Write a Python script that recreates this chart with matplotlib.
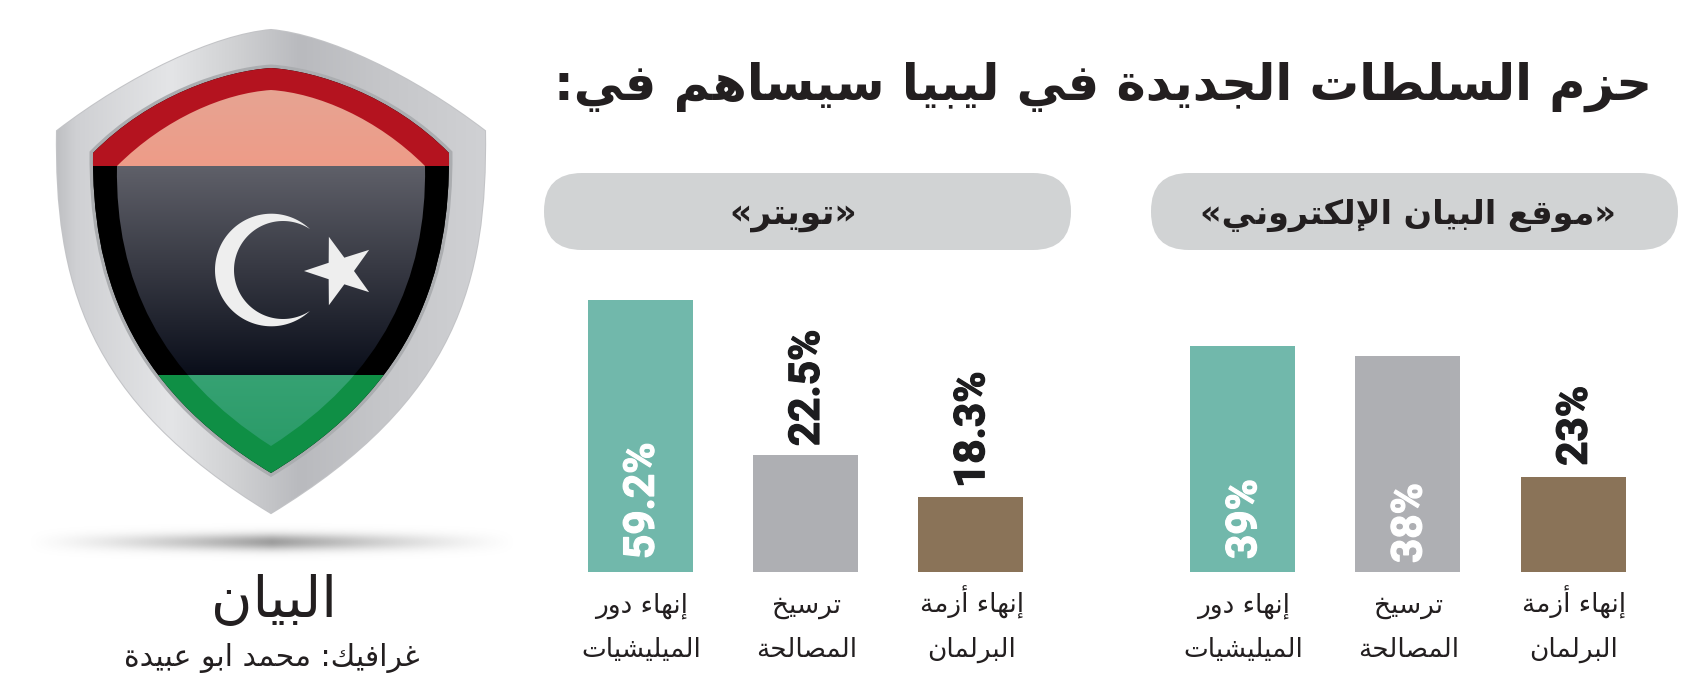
import numpy as np
import matplotlib
matplotlib.use("Agg")
import matplotlib.pyplot as plt
from matplotlib.path import Path
from matplotlib.patches import PathPatch, FancyBboxPatch, Rectangle, Polygon
from matplotlib.colors import to_rgb
import matplotlib.patheffects as pe

# ---------- data ----------
title_text = "حزم السلطات الجديدة في ليبيا سيساهم في:"
site_title = "«موقع البيان الإلكتروني»"
twitter_title = "«تويتر»"
category_labels = ["إنهاء دور\nالميليشيات", "ترسيخ\nالمصالحة", "إنهاء أزمة\nالبرلمان"]
# printed labels
site_labels = ["39%", "38%", "23%"]
twitter_labels = ["59.2%", "22.5%", "18.3%"]
# bar lengths as drawn in the picture (the source bars are not proportional to their labels)
site_bars = [49.1, 47.0, 20.7]
twitter_bars = [59.2, 25.4, 16.3]
bar_colors = ["#71b8ab", "#aeafb3", "#8a7358"]
site_inside = [True, True, False]
twitter_inside = [True, False, False]
logo_text = "البيان"
credit_text = "غرافيك: محمد ابو عبيدة"

W, H = 1686, 685
plt.rcParams["font.family"] = ["DejaVu Sans"]

# ---------- Arabic shaping (matplotlib draws glyphs left to right, unjoined) ----------
FORMS = {}
def _f(chars, start, n):
    for i, c in enumerate(chars):
        b = start + i * n
        FORMS[c] = tuple(b + k for k in range(n))
_f("ء", 0xFE80, 1)
for c, b in zip("آأؤإ", [0xFE81, 0xFE83, 0xFE85, 0xFE87]):
    FORMS[c] = (b, b + 1)
FORMS["ئ"] = (0xFE89, 0xFE8A, 0xFE8B, 0xFE8C)
FORMS["ا"] = (0xFE8D, 0xFE8E)
FORMS["ب"] = (0xFE8F, 0xFE90, 0xFE91, 0xFE92)
FORMS["ة"] = (0xFE93, 0xFE94)
_f("تثجحخ", 0xFE95, 4)
_f("دذرز", 0xFEA9, 2)
_f("سشصضطظعغفقكلمنه", 0xFEB1, 4)
FORMS["و"] = (0xFEED, 0xFEEE)
FORMS["ى"] = (0xFEEF, 0xFEF0)
FORMS["ي"] = (0xFEF1, 0xFEF2, 0xFEF3, 0xFEF4)
LAMALEF = {"آ": 0xFEF5, "أ": 0xFEF7, "إ": 0xFEF9, "ا": 0xFEFB}
MIRROR = {"«": "»", "»": "«"}

def joins_next(c):
    return c in FORMS and len(FORMS[c]) == 4

def shape_line(s):
    out = []
    i = 0
    n = len(s)
    while i < n:
        c = s[i]
        prev = s[i - 1] if i > 0 else ""
        if c not in FORMS:
            out.append(MIRROR.get(c, c))
            i += 1
            continue
        link = joins_next(prev)
        if c == "ل" and i + 1 < n and s[i + 1] in LAMALEF:
            out.append(chr(LAMALEF[s[i + 1]] + (1 if link else 0)))
            i += 2
            continue
        nxt = s[i + 1] if i + 1 < n else ""
        f = FORMS[c]
        fwd = len(f) == 4 and nxt in FORMS
        if len(f) == 1:
            g = f[0]
        elif link and fwd:
            g = f[3]
        elif fwd:
            g = f[2]
        elif link:
            g = f[1]
        else:
            g = f[0]
        out.append(chr(g))
        i += 1
    return "".join(reversed(out))

def ar(s):
    return "\n".join(shape_line(p) for p in s.split("\n"))

fig = plt.figure(figsize=(W / 100, H / 100), dpi=100, facecolor="white")
art = fig.add_axes([0, 0, 1, 1])
art.set_xlim(0, W)
art.set_ylim(H, 0)
art.set_autoscale_on(False)
art.axis("off")
renderer = fig.canvas.get_renderer()

def fit(x, y, s, width, **kw):
    t = art.text(x, y, s, fontsize=20, **kw)
    w = t.get_window_extent(renderer).width
    t.set_fontsize(20 * width / w)
    return t

# ---------- shield ----------
CX = 271
def shield(top, c1, c2, corner, c3, c4, bottom):
    m = lambda p: (2 * CX - p[0], p[1])
    v = [top, c1, c2, corner, c3, c4, bottom, m(c4), m(c3), m(corner), m(c2), m(c1), top, top]
    codes = [Path.MOVETO] + [Path.CURVE4] * 12 + [Path.CLOSEPOLY]
    return Path(v, codes)

def gradient(extent, stops, clip, horizontal=False, z=2):
    pos = [p for p, _ in stops]
    cols = np.array([to_rgb(c) for _, c in stops])
    n = 256
    t = np.linspace(pos[0], pos[-1], n)
    arr = np.stack([np.interp(t, pos, cols[:, k]) for k in range(3)], axis=-1)
    arr = arr[None, :, :] if horizontal else arr[:, None, :]
    im = art.imshow(arr, extent=extent, aspect="auto", origin="upper", zorder=z, interpolation="bilinear")
    im.set_clip_path(clip)
    return im

outer_path = shield((271, 30), (215, 35), (130, 75), (57, 131), (55, 280), (85, 400), (271, 513))
outer = PathPatch(outer_path, fc="#c8c9cc", ec="#c3c4c7", lw=1.5, zorder=1)
art.add_patch(outer)
gradient((57, 486, 520, 25),
         [(57, "#bfc0c3"), (75, "#cfd0d3"), (170, "#e4e5e7"), (235, "#d0d1d3"), (300, "#b9babe"),
          (380, "#c5c6c9"), (486, "#d0d1d4")], outer, horizontal=True, z=1.5)

flag_path = shield((271, 68), (225, 71), (150, 95), (93, 153), (92, 270), (125, 385), (271, 473))
rim = PathPatch(flag_path, fc="none", ec="#abadb0", lw=5, zorder=2)
art.add_patch(rim)
flag = PathPatch(flag_path, fc="#000000", ec="none", zorder=2.1)
art.add_patch(flag)
for y0, y1, col in [(60, 166, "#b4131f"), (166, 375, "#000000"), (375, 480, "#0f8f45")]:
    r = Rectangle((80, y0), 400, y1 - y0, fc=col, ec="none", zorder=2.2)
    art.add_patch(r)
    r.set_clip_path(flag)

gloss_path = shield((271, 90), (225, 93), (165, 118), (117, 166), (115, 280), (160, 375), (271, 446))
gloss = PathPatch(gloss_path, fc="none", ec="none", zorder=2.3)
art.add_patch(gloss)
gradient((100, 440, 166, 85), [(0, "#e6a493"), (1, "#ee9c88")], gloss, z=2.4)
gradient((100, 440, 375, 166), [(0, "#5f6069"), (0.5, "#363842"), (1, "#0a0e1a")], gloss, z=2.4)
gradient((100, 440, 450, 375), [(0, "#36a273"), (1, "#2a9b68")], gloss, z=2.4)

# crescent: two arcs meeting exactly at the tips
TIP_DX, TIP_DY = 310, 41
o_cx, o_r, i_cx, i_r, cy = 271.3, 56.3, 283.0, 49.0, 270.0
o_a = np.arctan2(TIP_DY, TIP_DX - o_cx)
i_a = np.arctan2(TIP_DY, TIP_DX - i_cx)
a = np.linspace(o_a, 2 * np.pi - o_a, 120)
b = np.linspace(2 * np.pi - i_a, i_a, 120)
oc = np.c_[o_cx + o_r * np.cos(a), cy + o_r * np.sin(a)]
ic = np.c_[i_cx + i_r * np.cos(b), cy + i_r * np.sin(b)]
art.add_patch(Polygon(np.r_[oc, ic], closed=True, fc="#eeeeee", ec="none", zorder=3))
# star
ang = np.radians(180 + 36 * np.arange(10))
rad = np.where(np.arange(10) % 2 == 0, 36, 14)
art.add_patch(Polygon(np.c_[340 + rad * np.cos(ang), 271 + rad * np.sin(ang)], closed=True,
                      fc="#eeeeee", ec="none", zorder=3))

# ground shadow
xx, yy = np.meshgrid(np.linspace(-1, 1, 400), np.linspace(-1, 1, 60))
alpha = np.clip(1 - np.abs(xx), 0, 1) ** 1.3 * np.exp(-(yy / 0.42) ** 2)
sh = np.zeros(xx.shape + (4,))
sh[..., :3] = 0.55
sh[..., 3] = alpha * 0.85
art.imshow(sh, extent=(26, 518, 562, 522), aspect="auto", origin="upper", zorder=1)

# ---------- texts ----------
fit(274, 617, ar(logo_text), 126, ha="center", va="baseline", color="#231f20")
fit(272, 666, ar(credit_text), 295, ha="center", va="baseline", color="#231f20")
fit(1103, 100, ar(title_text), 1099, ha="center", va="baseline", color="#231f20", fontweight="bold")

# ---------- panels ----------
PILL_Y0, PILL_Y1 = 173, 250
BASE_Y = 572
TOP_Y = 290
PX_PER_UNIT = 4.6
BAR_W = 105
PT = 0.72  # points per pixel at dpi 100
LINE_DROPS = [41, 85]  # category-label baselines, px below the bars

def panel(px0, px1, centers, values, labels, inside, gaps, heading, head_x, head_w):
    art.add_patch(FancyBboxPatch((px0, PILL_Y0), px1 - px0, PILL_Y1 - PILL_Y0,
                                 boxstyle="round,pad=0,rounding_size=38", fc="#d1d3d4", ec="none", zorder=1))
    fit(head_x, (PILL_Y0 + PILL_Y1) / 2 + 12, ar(heading), head_w, ha="center", va="baseline",
        color="#231f20", fontweight="bold", zorder=2)
    spacing = (centers[2] - centers[0]) / 2
    ax = fig.add_axes([px0 / W, 1 - BASE_Y / H, (px1 - px0) / W, (BASE_Y - TOP_Y) / H])
    ax.patch.set_visible(False)
    x = np.arange(len(values))
    ax.set_xlim((px0 - centers[0]) / spacing, (px1 - centers[0]) / spacing)
    ax.set_ylim(0, (BASE_Y - TOP_Y) / PX_PER_UNIT)
    ax.bar(x, values, width=BAR_W / spacing, color=bar_colors)
    for s in ax.spines.values():
        s.set_visible(False)
    ax.set_yticks([])
    ax.set_xticks([])
    for i, cat in enumerate(category_labels):
        for line, drop in zip(cat.split("\n"), LINE_DROPS):
            ax.annotate(ar(line), xy=(i, 0), xytext=(1 * PT, -drop * PT), textcoords="offset points",
                        ha="center", va="baseline", fontsize=19, color="#231f20", annotation_clip=False)
    for i, (v, lab, ins, gap) in enumerate(zip(values, labels, inside, gaps)):
        col = "white" if ins else "#1d1d1f"
        t = ax.annotate(lab, xy=(i, 0 if ins else v), xytext=(2.2 * PT, gap * PT),
                        textcoords="offset points", rotation=90, ha="center", va="bottom",
                        family="Roboto", fontweight="bold", fontsize=30.5, color=col)
        t.set_path_effects([pe.withStroke(linewidth=0.9, foreground=col)])

panel(544, 1071, [640, 805.5, 970.5], twitter_bars, twitter_labels, twitter_inside, [13, 9, 9],
      twitter_title, 793, 128)
panel(1151, 1678, [1242.5, 1408, 1573], site_bars, site_labels, site_inside, [13, 9, 11],
      site_title, 1408, 415)

fig.savefig("out.png", dpi=100, facecolor="white")
